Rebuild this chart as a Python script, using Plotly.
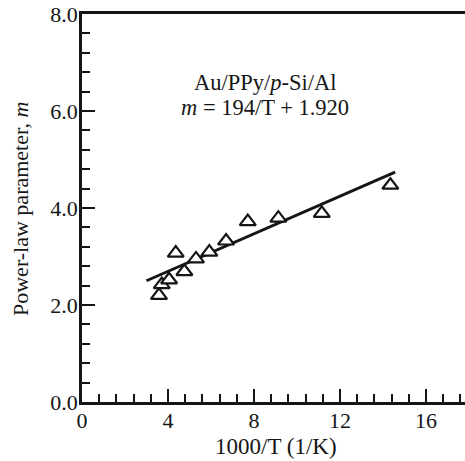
import plotly.graph_objects as go

# data
inv_T = [3.58, 3.71, 4.05, 4.36, 4.76, 5.30, 5.92, 6.70, 7.71, 9.13, 11.15, 14.34]
m_vals = [2.20, 2.42, 2.52, 3.07, 2.69, 2.95, 3.09, 3.32, 3.72, 3.79, 3.89, 4.47]
fit_x = [3.0, 14.56]
fit_y = [2.50, 4.74]

x_ticks = [0, 4, 8, 12, 16]
y_ticks = [0, 2, 4, 6, 8]

FONT = "Liberation Serif"
INK = "#151515"

# pixel helpers for paper coordinates (plot area: x 82..465, y 14..402)
def px(xp):
    return (xp - 82) / 383

def py(yp):
    return (402 - yp) / 388

fig = go.Figure()
fig.add_trace(go.Scatter(x=fit_x, y=fit_y, mode="lines",
                         line=dict(color=INK, width=3), showlegend=False))
fig.add_trace(go.Scatter(x=inv_T, y=m_vals, mode="markers",
                         marker=dict(symbol="triangle-up", size=14, color="white",
                                     line=dict(color=INK, width=2.2)),
                         showlegend=False))

fig.update_layout(
    width=465, height=461,
    margin=dict(l=82, r=0, t=14, b=59),
    paper_bgcolor="white", plot_bgcolor="white",
    font=dict(family=FONT, size=22, color=INK),
    xaxis=dict(range=[0, 17.81], tickvals=x_ticks, ticktext=[str(v) for v in x_ticks],
               ticks="inside", ticklen=13, tickwidth=2.2, tickcolor=INK,
               minor=dict(dtick=0.8, tick0=0, ticks="inside", ticklen=8, tickwidth=2, tickcolor=INK),
               showline=True, linewidth=2.8, linecolor=INK, mirror=True,
               showgrid=False, zeroline=False, tickfont=dict(size=22),
               ticklabelstandoff=-3),
    yaxis=dict(range=[0, 8], tickvals=y_ticks, ticktext=[f"{v:.1f}" for v in y_ticks],
               ticks="inside", ticklen=13, tickwidth=2.2, tickcolor=INK,
               minor=dict(dtick=0.4, tick0=0, ticks="inside", ticklen=8, tickwidth=2, tickcolor=INK),
               showline=True, linewidth=2.8, linecolor=INK, mirror=False,
               showgrid=False, zeroline=False, tickfont=dict(size=22),
               ticklabelstandoff=-3),
    annotations=[
        dict(text="Au/PPy/<i>p</i>-Si/Al", x=px(265), y=py(82),
             xref="paper", yref="paper", showarrow=False,
             font=dict(size=22.5, family=FONT), xanchor="center", yanchor="middle"),
        dict(text="<i>m</i> = 194/T + 1.920", x=px(264.5), y=py(107),
             xref="paper", yref="paper", showarrow=False,
             font=dict(size=22.5, family=FONT), xanchor="center", yanchor="middle"),
        dict(text="1000/T (1/K)", x=px(276), y=py(446),
             xref="paper", yref="paper", showarrow=False,
             font=dict(size=23, family=FONT), xanchor="center", yanchor="middle"),
        dict(text="Power-law parameter, <i>m</i>", x=px(20), y=py(209),
             xref="paper", yref="paper", showarrow=False, textangle=-90,
             font=dict(size=22, family=FONT), xanchor="center", yanchor="middle"),
    ],
)

fig.write_html("out.html", config={"displayModeBar": False},
               post_script="document.body.style.margin='0px';document.body.style.overflow='hidden';")
